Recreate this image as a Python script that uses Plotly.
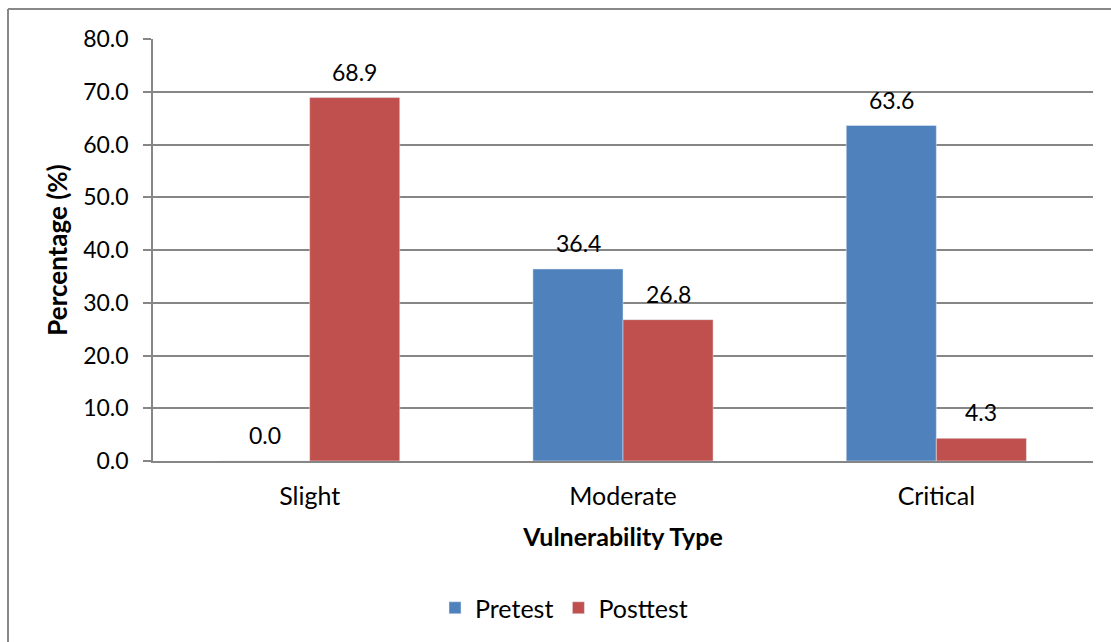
import plotly.graph_objects as go

categories = ["Slight", "Moderate", "Critical"]
pretest = [0.0, 36.4, 63.6]
posttest = [68.9, 26.8, 4.3]
y_ticks = [0, 10, 20, 30, 40, 50, 60, 70, 80]

FONT = "Lato, Open Sans, sans-serif"

fig = go.Figure()
fig.add_trace(go.Bar(name="Pretest", x=categories, y=pretest, marker_color="#4F81BD"))
fig.add_trace(go.Bar(name="Posttest", x=categories, y=posttest, marker_color="#C0504D"))

# data labels above each bar
for vals, shift in ((pretest, -45), (posttest, 45)):
    for c, v in zip(categories, vals):
        fig.add_annotation(
            x=c, y=v, xref="x", yref="y", text=f"{v:.1f}", showarrow=False,
            xshift=shift, yanchor="bottom", yshift=10,
            font=dict(size=23, color="#000000", family=FONT),
        )

W, H = 1111, 642
L, T = 153, 39
R = W - 1093
B = H - 461
pw, ph = W - L - R, H - T - B

def px_x(x):
    return (x - L) / pw

def px_y(y):
    return (H - B - y) / ph

border = dict(color="#888888", width=2)

fig.update_layout(
    width=W, height=H,
    margin=dict(l=L, r=R, t=T, b=B, autoexpand=False),
    paper_bgcolor="white", plot_bgcolor="white",
    barmode="group", bargap=0.425, bargroupgap=0,
    font=dict(family=FONT, color="#000000", size=23),
    xaxis=dict(
        showline=True, linecolor="#868686", linewidth=1.5,
        ticks="", tickfont=dict(size=25, family=FONT), ticklabelstandoff=12,
        title=dict(text="<b>Vulnerability Type</b>", font=dict(size=25, family=FONT), standoff=20),
    ),
    yaxis=dict(
        range=[0, 80], tickvals=y_ticks, ticktext=[f"{v:.1f}" for v in y_ticks],
        showgrid=True, gridcolor="#868686", gridwidth=1.5,
        showline=True, linecolor="#868686", linewidth=1.5,
        ticks="outside", ticklen=8, tickcolor="#868686", tickwidth=1.5,
        tickfont=dict(size=23, family=FONT), ticklabelstandoff=10,
        zeroline=False,
        title=dict(text="<b>Percentage (%)</b>", font=dict(size=26, family=FONT), standoff=8),
    ),
    legend=dict(
        orientation="h", x=px_x(564), xanchor="center", y=px_y(608), yanchor="middle",
        font=dict(size=25, family=FONT), traceorder="normal",
    ),
    showlegend=True,
    shapes=[
        dict(type="line", xref="paper", yref="paper",
             x0=px_x(8), x1=px_x(1125), y0=px_y(9), y1=px_y(9),
             line=border, layer="below"),
        dict(type="line", xref="paper", yref="paper",
             x0=px_x(8), x1=px_x(8), y0=px_y(9), y1=px_y(660),
             line=border, layer="below"),
    ],
)

fig.write_html(
    "out.html",
    config={"displayModeBar": False},
    post_script="document.body.style.margin='0';document.body.style.overflow='hidden';",
)
